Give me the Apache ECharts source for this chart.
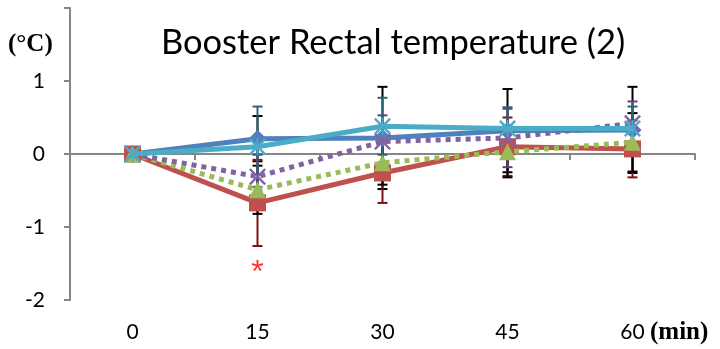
<!DOCTYPE html>
<html><head><meta charset="utf-8">
<script src="https://cdn.jsdelivr.net/npm/echarts@6/dist/echarts.min.js"></script>
<style>html,body{margin:0;padding:0;background:#fff}#c{width:720px;height:349px}</style>
</head><body><div id="c"></div>
<script>
const categories = ['0', '15', '30', '45', '60'];
const yTicks = [-2, -1, 0, 1, 2];
const blueMean   = [0, 0.21, 0.22, 0.32, 0.33];
const blueErr    = [0, 0.31, 0.70, 0.57, 0.59];
const redMean    = [0, -0.67, -0.26, 0.10, 0.07];
const redErr     = [0, 0.59, 0.41, 0.40, 0.39];
const greenMean  = [0, -0.49, -0.12, 0.03, 0.16];
const greenErr   = [0, 0.33, 0.30, 0.35, 0.40];
const purpleMean = [0, -0.31, 0.17, 0.22, 0.42];
const purpleErr  = [0, 0.30, 0.36, 0.40, 0.30];
const cyanMean   = [0, 0.10, 0.38, 0.35, 0.35];
const cyanErr    = [0, 0.55, 0.39, 0.29, 0.30];
const sigMarks   = [[1, -1.52]];

const C = {blue:'#4F81BD', red:'#C0504D', green:'#9BBB59', purple:'#8064A2', cyan:'#4BACC6'};
const XPATH = 'path://M0,2L2,0L20,18L18,20ZM2,20L0,18L18,0L20,2Z';
const STARPATH = 'path://M0,2L2,0L20,18L18,20ZM2,20L0,18L18,0L20,2ZM9,0L11,0L11,20L9,20Z';
const TICKFONT = 'Lato';

function errSeries(mean, err, color) {
  return {
    type: 'custom', z: 1, silent: true,
    data: mean.map((m, i) => [i, m - err[i], m + err[i]]),
    renderItem: function (params, api) {
      if (api.value(2) === api.value(1)) return null;
      const lo = api.coord([api.value(0), api.value(1)]);
      const hi = api.coord([api.value(0), api.value(2)]);
      const w = 5;
      const st = {stroke: color, lineWidth: 2};
      return {type: 'group', children: [
        {type: 'line', shape: {x1: lo[0], y1: lo[1], x2: hi[0], y2: hi[1]}, style: st},
        {type: 'line', shape: {x1: lo[0]-w, y1: lo[1], x2: lo[0]+w, y2: lo[1]}, style: st},
        {type: 'line', shape: {x1: hi[0]-w, y1: hi[1], x2: hi[0]+w, y2: hi[1]}, style: st}
      ]};
    }
  };
}
function lineSeries(data, color, symbol, size, dashed, z) {
  return {
    type: 'line', data: data, z: z, symbol: symbol, symbolSize: size,
    lineStyle: {color: color, width: 5, type: dashed ? [5, 5] : 'solid', cap: 'butt'},
    itemStyle: {color: color, borderWidth: 0},
    animation: false
  };
}
const chart = echarts.init(document.getElementById('c'));
chart.setOption({
  animation: false,
  title: {text: 'Booster Rectal temperature (2)', left: 388, top: 20, textAlign: 'center',
    textStyle: {fontFamily: 'Lato', fontWeight: 'normal', fontSize: 34.5, color: '#000'}},
  grid: {left: 70, right: 25, top: 8, bottom: 49, outerBoundsMode: 'none', containLabel: false},
  xAxis: [{
    type: 'category', data: categories, boundaryGap: true, position: 'bottom',
    axisLine: {onZero: true, lineStyle: {color: '#868686', width: 2}},
    axisTick: {show: true, length: 6, lineStyle: {color: '#868686', width: 2}},
    axisLabel: {show: false}
  }, {
    type: 'category', data: categories, boundaryGap: true, position: 'bottom',
    axisLine: {show: false, onZero: false}, axisTick: {show: false},
    axisLabel: {margin: 22, fontFamily: TICKFONT, fontSize: 21, color: '#000'}
  }],
  yAxis: {
    type: 'value', min: yTicks[0], max: yTicks[yTicks.length-1], interval: 1,
    axisLine: {show: true, lineStyle: {color: '#868686', width: 2}},
    axisTick: {show: true, length: 6, lineStyle: {color: '#868686', width: 2}},
    splitLine: {show: false},
    axisLabel: {margin: 25, fontFamily: TICKFONT, fontSize: 21, color: '#000',
      formatter: v => (v === 2 ? '' : String(v))}
  },
  graphic: [
    {type: 'text', left: 8, top: 32, style: {text: '(°C)', font: 'bold 25px "Liberation Serif"', fill: '#000'}},
    {type: 'text', left: 650, top: 320, style: {text: '(min)', font: 'bold 25px "Liberation Serif"', fill: '#000'}}
  ],
  series: [
    errSeries(blueMean, blueErr, '#000000'),
    errSeries(redMean, redErr, '#7F1010'),
    errSeries(greenMean, greenErr, '#000000'),
    errSeries(purpleMean, purpleErr, '#5B4480'),
    errSeries(cyanMean, cyanErr, '#2A6478'),
    lineSeries(blueMean, C.blue, 'diamond', 18, false, 3),
    lineSeries(redMean, C.red, 'rect', 17, false, 4),
    lineSeries(greenMean, C.green, 'triangle', 17, true, 5),
    lineSeries(purpleMean, C.purple, XPATH, 17, true, 6),
    lineSeries(cyanMean, C.cyan, STARPATH, 17, false, 7),
    {type: 'scatter', z: 8, symbolSize: 0, data: sigMarks,
      label: {show: true, position: 'inside', formatter: '*', fontSize: 32, color: '#FF0000', offset: [0, 8]}}
  ]
});
</script></body></html>
